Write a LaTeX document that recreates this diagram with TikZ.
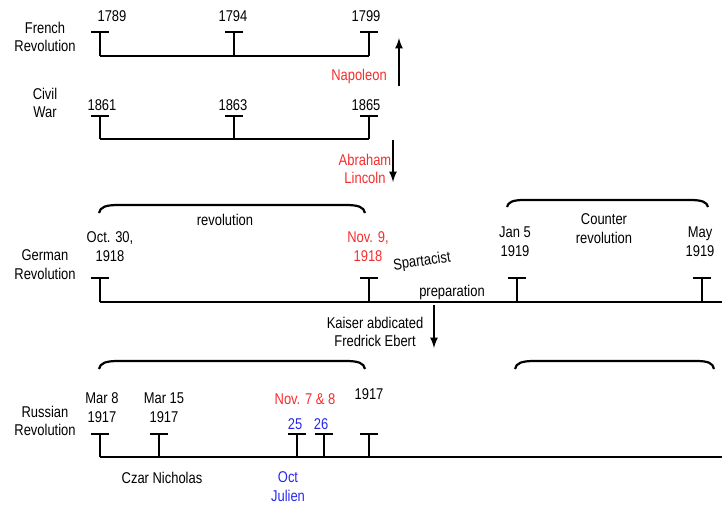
\documentclass[tikz,border=0pt]{standalone}
\usepackage{fontspec}
\setmainfont{Liberation Sans}[FakeStretch=0.83]

\definecolor{datered}{RGB}{245,45,45}
\definecolor{dateblue}{RGB}{40,40,235}

\begin{document}
\begin{tikzpicture}[x=0.5pt, y=-0.5pt,
    every node/.style={font=\fontsize{7.8}{9.4}\selectfont, align=center, inner sep=0pt},
    tl/.style={line width=1.4pt},
    brace/.style={line width=1.1pt},
    push/.style={line width=0.8pt, -latex}]

    \useasboundingbox (0,0) rectangle (722,504);

        %French Revolution
        \node (frlabel) at (45,37) {French\\Revolution};
        \node (y1789) at (112,16) {1789};
        \node (y1794) at (233,16) {1794};
        \node (y1799) at (366,16) {1799};
        \draw[tl] (100,56) -- (369,56);
        \foreach \x in {100,234,369}
            \draw[tl] (\x,56) -- (\x,32) (\x-9,32) -- (\x+9,32);

        \node[text=datered] (napoleon) at (359,76) {Napoleon};
        \coordinate (napbot) at (399,86);
        \coordinate (naptop) at (399,38);
        \draw[push] (napbot) -- (naptop);

        %Civil War
        \node (cwlabel) at (45,103) {Civil\\War};
        \node (y1861) at (102,105) {1861};
        \node (y1863) at (233,105) {1863};
        \node (y1865) at (366,105) {1865};
        \draw[tl] (100,139) -- (369,139);
        \foreach \x in {100,234,369}
            \draw[tl] (\x,139) -- (\x,116) (\x-9,116) -- (\x+9,116);

        \node[text=datered] (lincoln) at (365,169) {Abraham\\Lincoln};
        \coordinate (lintop) at (393,140);
        \coordinate (linbot) at (393,182);
        \draw[push] (lintop) -- (linbot);

        %German Revolution
        \draw[brace] (99,213) .. controls (100,207) and (106,205) .. (118,205) -- (346,205) .. controls (358,205) and (364,207) .. (365,213);
        \draw[brace] (507,207) .. controls (508,202) and (513,200) .. (524,200) -- (690,200) .. controls (702,200) and (707,202) .. (708,207);
        \node (revo) at (225,220) {revolution};
        \node (counter) at (604,229) {Counter\\revolution};
        \node (gelabel) at (45,265) {German\\Revolution};
        \node (oct30) at (110,247) {Oct. 30,\\1918};
        \node[text=datered] (nov9) at (368,247) {Nov. 9,\\1918};
        \node[rotate=8] (spart) at (422,262) {Spartacist};
        \node (jan5) at (515,242) {Jan 5\\1919};
        \node (may) at (700,242) {May\\1919};
        \node (prep) at (452,292) {preparation};
        \draw[tl] (100,302) -- (722,302);
        \foreach \x in {100,369,517,702}
            \draw[tl] (\x,302) -- (\x,278) (\x-9,278) -- (\x+9,278);

        \node (kaiser) at (375,332) {Kaiser abdicated\\Fredrick Ebert};
        \coordinate (kaitop) at (434,305);
        \coordinate (kaibot) at (434,348);
        \draw[push] (kaitop) -- (kaibot);

        %Russian Revolution
        \draw[brace] (99,369) .. controls (100,363) and (106,361) .. (118,361) -- (346,361) .. controls (358,361) and (364,363) .. (365,369);
        \draw[brace] (515,369) .. controls (516,363) and (522,361) .. (534,361) -- (696,361) .. controls (708,361) and (713,363) .. (714,369);
        \node (rulabel) at (45,421) {Russian\\Revolution};
        \node (mar8) at (102,408) {Mar 8\\1917};
        \node (mar15) at (164,408) {Mar 15\\1917};
        \node[text=datered] (nov78) at (305,399) {Nov. 7 \& 8};
        \node (y1917) at (369,394) {1917};
        \node[text=dateblue] (d25) at (295,424) {25};
        \node[text=dateblue] (d26) at (321,424) {26};
        \draw[tl] (100,457) -- (722,457);
        \foreach \x in {100,159,297,324,369}
            \draw[tl] (\x,457) -- (\x,434) (\x-9,434) -- (\x+9,434);

        \node (czar) at (162,478) {Czar Nicholas};
        \node[text=dateblue] (julien) at (288,487) {Oct\\Julien};

    \end{tikzpicture}
\end{document}
